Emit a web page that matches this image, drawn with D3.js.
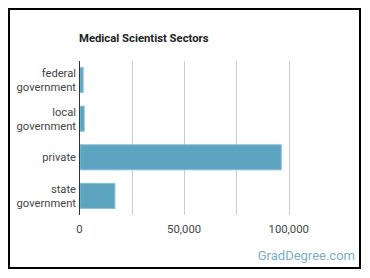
<!DOCTYPE html>
<meta charset="utf-8">
<style>
html, body {
  margin: 0;
  overflow: hidden;
  width: 100%;
  height: 100%;
  background: #fff;
}
text {
  font-family: Roboto, sans-serif;
}
</style>
<body>
<script src="https://cdn.jsdelivr.net/npm/d3@7"></script>
<script>
var width = 370,
    height = 278;

var categories = [["federal", "government"], ["local", "government"], ["private"], ["state", "government"]];
var values = [1500, 2000, 96200, 16700];
var ticks = [0, 50000, 100000];
var gridTicks = [0, 25000, 50000, 75000, 100000];

var margin = {top: 61, left: 79.5, right: 29, bottom: 63};

var svg = d3.select("body").append("svg")
    .attr("width", width)
    .attr("height", height);

// frame
svg.append("rect")
    .attr("x", 9).attr("y", 9)
    .attr("width", 351).attr("height", 259)
    .attr("fill", "#fff")
    .attr("stroke", "#000")
    .attr("stroke-width", 2);

var x = d3.scaleLinear()
    .domain([0, 125000])
    .range([margin.left, width - margin.right]);

var y = d3.scaleBand()
    .domain(d3.range(categories.length))
    .range([margin.top, height - margin.bottom])
    .paddingInner(0.35)
    .paddingOuter(0.17);

svg.append("text")
    .attr("x", 79)
    .attr("y", 42)
    .attr("font-size", 11.3)
    .attr("font-weight", "bold")
    .attr("fill", "#222")
    .text("Medical Scientist Sectors");

// grid
svg.selectAll(".grid")
    .data(gridTicks.slice(1))
    .enter().append("line")
    .attr("x1", function(d) { return Math.round(x(d)) + 0.5; })
    .attr("x2", function(d) { return Math.round(x(d)) + 0.5; })
    .attr("y1", margin.top)
    .attr("y2", height - margin.bottom)
    .attr("stroke", "#ccc")
    .attr("stroke-width", 1);

// bars
svg.selectAll(".bar")
    .data(values)
    .enter().append("rect")
    .attr("x", x(0) + 0.5)
    .attr("y", function(d, i) { return y(i); })
    .attr("width", function(d) { return x(d) - x(0); })
    .attr("height", y.bandwidth())
    .attr("fill", "#5da4c1")
    .attr("stroke", "#8cc0d6")
    .attr("stroke-width", 1);

// axis line
svg.append("line")
    .attr("x1", x(0)).attr("x2", x(0))
    .attr("y1", margin.top).attr("y2", height - margin.bottom)
    .attr("stroke", "#333")
    .attr("stroke-width", 1);

// x tick labels
svg.selectAll(".tick")
    .data(ticks)
    .enter().append("text")
    .attr("x", function(d) { return x(d); })
    .attr("y", 233)
    .attr("text-anchor", "middle")
    .attr("font-size", 11.3)
    .attr("fill", "#444")
    .text(d3.format(","));

// category labels
categories.forEach(function(lines, i) {
  var cy = y(i) + y.bandwidth() / 2;
  var t = svg.append("text")
      .attr("text-anchor", "end")
      .attr("font-size", 11.2)
      .attr("fill", "#444");
  lines.forEach(function(line, j) {
    t.append("tspan")
      .attr("x", 76)
      .attr("y", cy + 4 + (j - (lines.length - 1) / 2) * 14)
      .text(line);
  });
});

svg.append("text")
    .attr("x", 355)
    .attr("y", 260)
    .attr("text-anchor", "end")
    .attr("font-size", 13)
    .attr("fill", "#7aaecb")
    .text("GradDegree.com");
</script>
</body>
